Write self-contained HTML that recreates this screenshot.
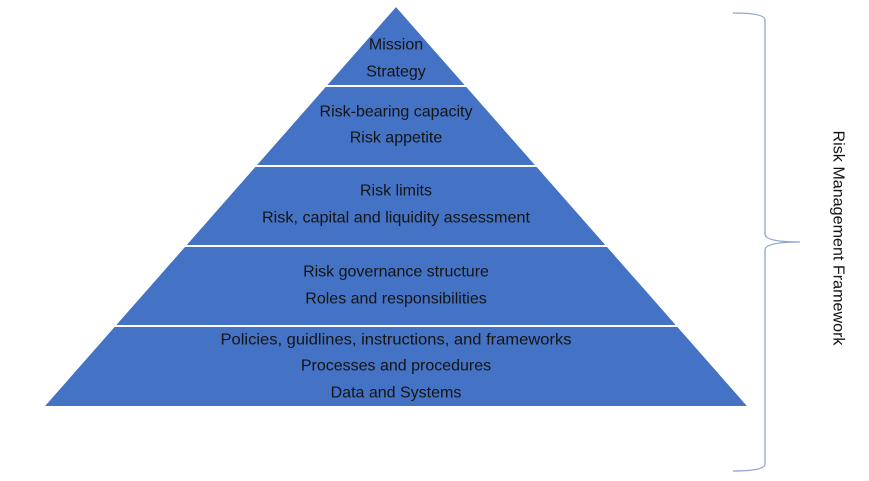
<!DOCTYPE html>
<html><head><meta charset="utf-8"><style>
html,body{margin:0;padding:0;background:#fff;}
svg{display:block;}
text{font-family:"Liberation Sans",sans-serif;font-size:16px;fill:#141414;text-anchor:middle;dominant-baseline:central;}
</style></head><body>
<svg width="869" height="481" viewBox="0 0 869 481" xmlns="http://www.w3.org/2000/svg">
<polygon points="396,7 747,406 45,406" fill="#4472C4"/>
<g stroke="#fff" stroke-width="2">
<line x1="0" y1="86" x2="869" y2="86"/>
<line x1="0" y1="166" x2="869" y2="166"/>
<line x1="0" y1="246" x2="869" y2="246"/>
<line x1="0" y1="326" x2="869" y2="326"/>
</g>
<rect x="0" y="407" width="869" height="74" fill="#fff"/>
<polygon points="0,0 396,0 396,7 45,406 0,406" fill="#fff"/>
<polygon points="396,0 869,0 869,406 747,406 396,7" fill="#fff"/>
<text x="396" y="45">Mission</text>
<text x="396" y="72">Strategy</text>
<text x="396" y="112">Risk-bearing capacity</text>
<text x="396" y="138">Risk appetite</text>
<text x="396" y="191">Risk limits</text>
<text x="396" y="218" textLength="268" lengthAdjust="spacingAndGlyphs">Risk, capital and liquidity assessment</text>
<text x="396" y="272">Risk governance structure</text>
<text x="396" y="299">Roles and responsibilities</text>
<text x="396" y="340" textLength="351" lengthAdjust="spacingAndGlyphs">Policies, guidlines, instructions, and frameworks</text>
<text x="396" y="366">Processes and procedures</text>
<text x="396" y="393">Data and Systems</text>
<path d="M733,13 Q765,13 765,20 L765,234 Q765,242 800,242 Q765,242 765,250 L765,464 Q765,471 733,471" fill="none" stroke="#8FA4D0" stroke-width="1.3"/>
<text x="838" y="238" textLength="215" lengthAdjust="spacingAndGlyphs" transform="rotate(90 838 238)">Risk Management Framework</text>
</svg>
</body></html>
